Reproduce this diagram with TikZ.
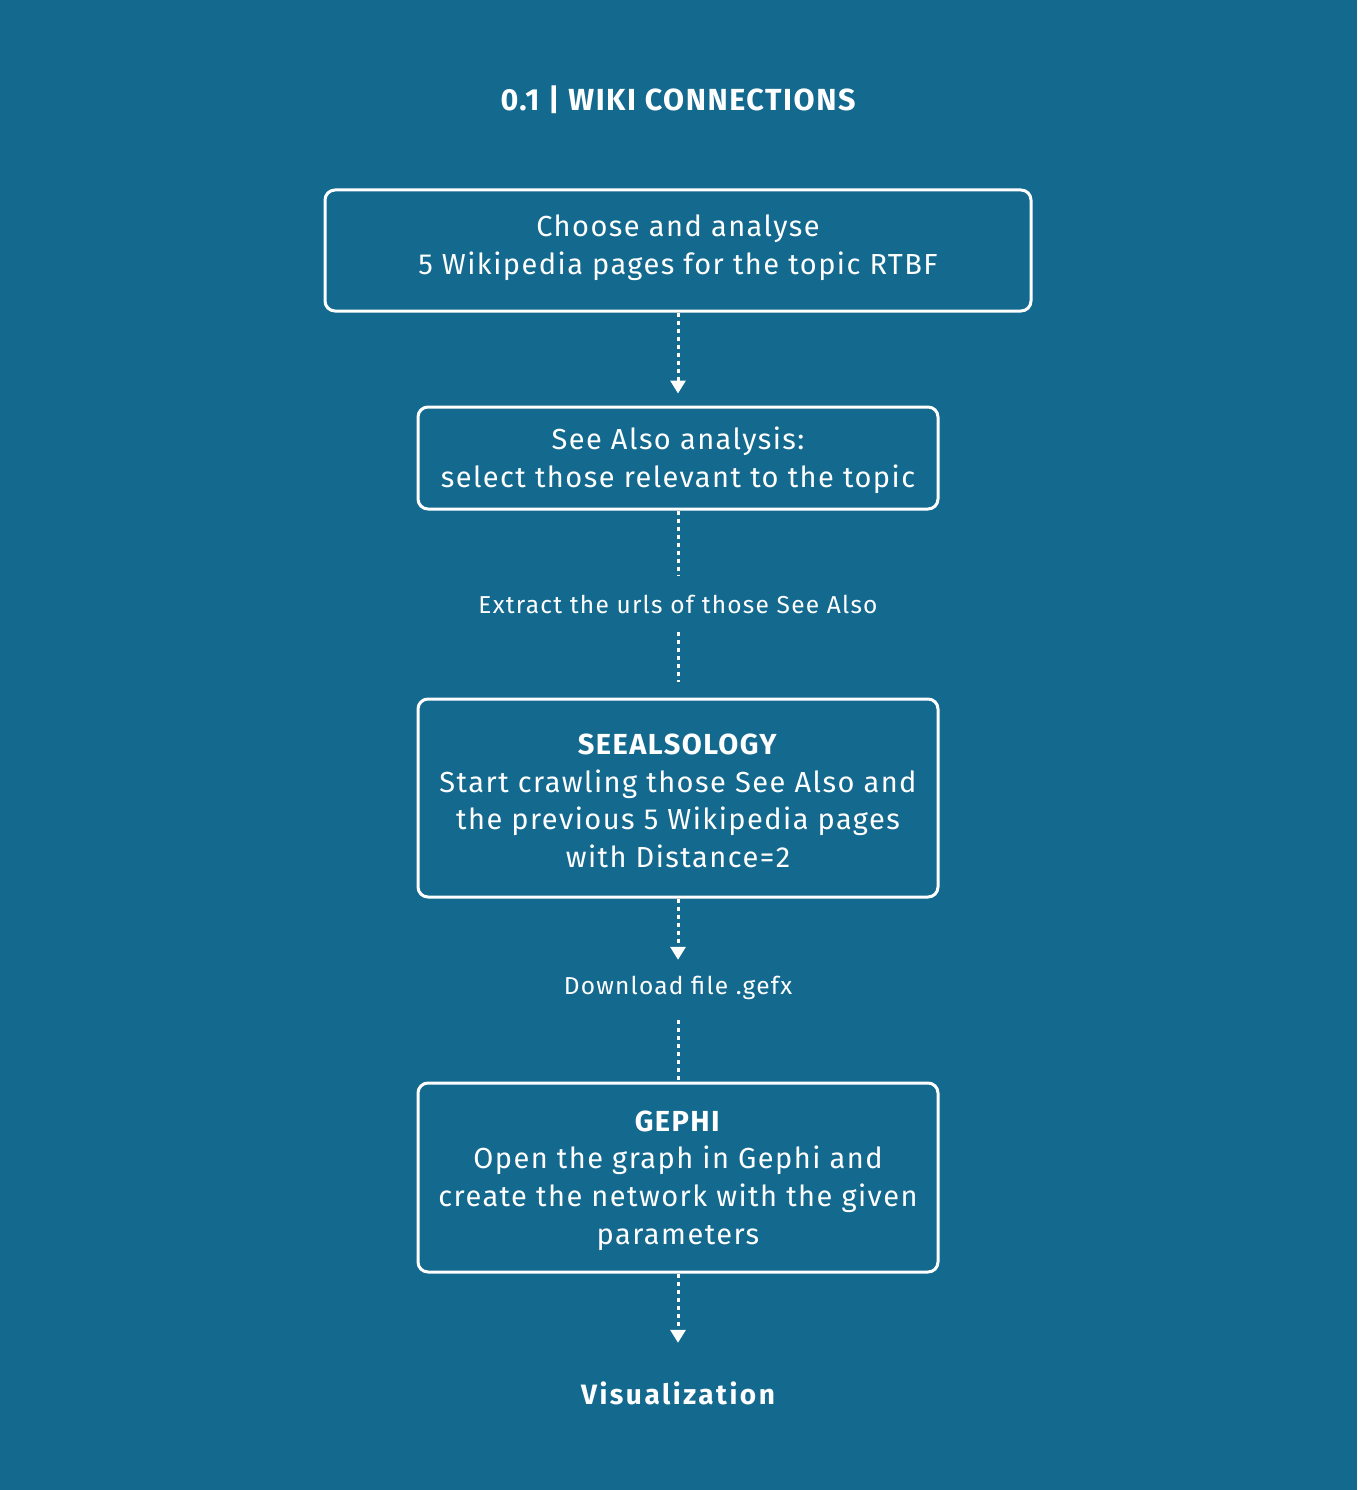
\documentclass[tikz,border=0pt]{standalone}
\usepackage{fontspec}
\setmainfont{Fira Sans}[LetterSpace=5]
\newfontfamily\wideff{Fira Sans}[LetterSpace=9]
\usetikzlibrary{arrows.meta}
\definecolor{bg}{RGB}{20,105,143}
\begin{document}
\begin{tikzpicture}[x=1pt,y=1pt,
  box/.style={draw=white,line width=3pt,rounded corners=10pt,inner sep=0pt},
  boxtext/.style={text=white,align=center,font=\fontsize{29}{37.7}\selectfont,inner sep=0pt},
  lab/.style={text=white,align=center,font=\fontsize{24.5}{30}\selectfont,inner sep=0pt},
  conn/.style={white,line width=3pt,dash pattern=on 4pt off 4pt},
  tip/.style={-{Triangle[width=15pt,length=13pt]}}]
\fill[bg] (0,0) rectangle (1357,-1490);
\useasboundingbox (0,0) rectangle (1357,-1490);
\node[text=white,font=\fontsize{30.5}{34}\selectfont\bfseries] (title) at (678,-100) {0.1 | WIKI CONNECTIONS};
\node[box,minimum width=706pt,minimum height=121pt] (b1) at (678,-250.5) {};
\node[boxtext] (b1t) at (678,-247.5) {Choose and analyse\\5 Wikipedia pages for the topic RTBF};
\node[box,minimum width=520pt,minimum height=102pt] (b2) at (678,-458) {};
\node[boxtext] (b2t) at (678,-460) {See Also analysis:\\select those relevant to the topic};
\node[lab,minimum height=56pt] (l1) at (678,-604) {Extract the urls of those See Also};
\node[box,minimum width=520pt,minimum height=198pt] (b3) at (678,-798) {};
\node[boxtext] (b3t) at (678,-801) {\textbf{SEEALSOLOGY}\\Start crawling those See Also and\\the previous 5 Wikipedia pages\\with Distance=2};
\node[lab,minimum height=56pt] (l2) at (678,-988) {Download file .gefx};
\node[box,minimum width=520pt,minimum height=189pt] (b4) at (678,-1177.5) {};
\node[boxtext] (b4t) at (678,-1180.5) {\textbf{GEPHI}\\Open the graph in Gephi and\\create the network with the given\\parameters};
\node[text=white,font=\wideff\fontsize{28}{34}\selectfont\bfseries,minimum height=100pt,inner sep=0pt] (vis) at (678,-1393) {Visualization};
\draw[conn,tip,shorten >=12pt] (b1.south) -- (b2.north);
\draw[conn] (b2.south) -- (l1.north);
\draw[conn,shorten >=16pt] (l1.south) -- (b3.north);
\draw[conn,tip] (b3.south) -- (l2.north);
\draw[conn,shorten <=4pt] (l2.south) -- (b4.north);
\draw[conn,tip] (b4.south) -- (vis.north);
\end{tikzpicture}
\end{document}
